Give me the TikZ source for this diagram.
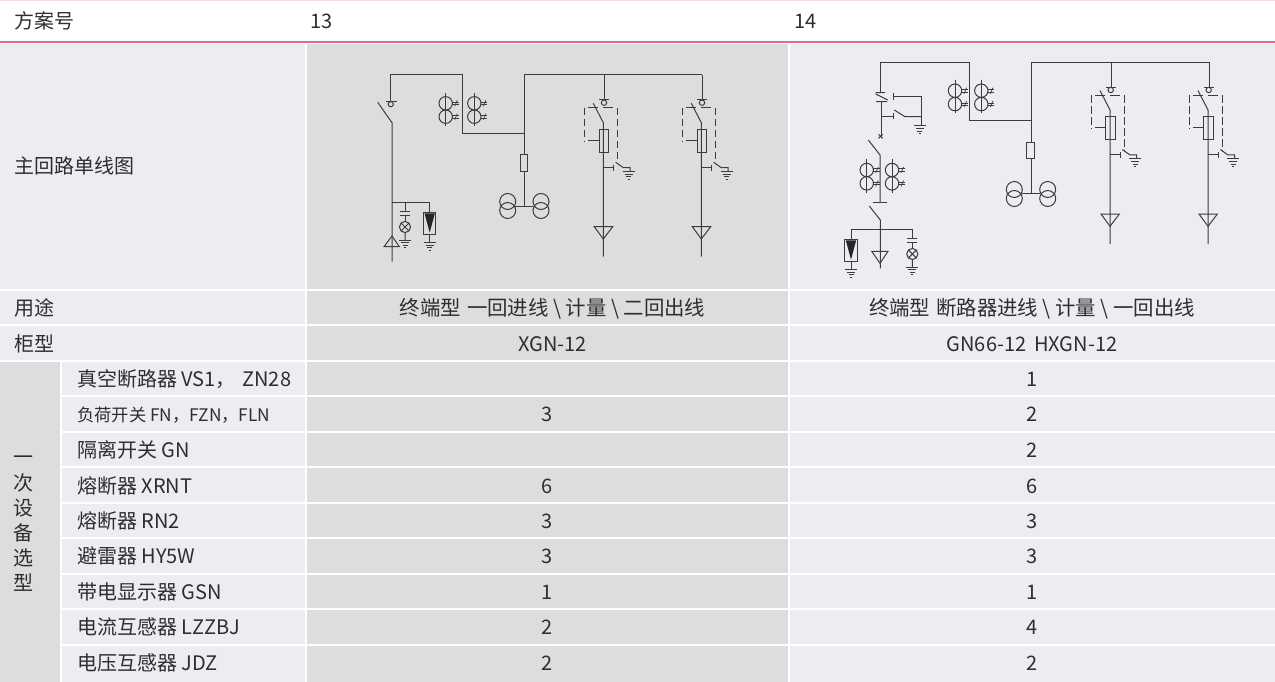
\documentclass[tikz,border=0pt]{standalone}
\usepackage{fontspec}
\setmainfont{Noto Sans CJK SC}
\definecolor{cellL}{HTML}{ECEDF0}
\definecolor{cellD}{HTML}{DCDDDF}
\definecolor{accent}{HTML}{DF6F80}
\definecolor{txt}{HTML}{2E2E30}
\definecolor{wire}{HTML}{3C3C3E}
\tikzset{
  lc/.style={fill=cellL,draw=none},
  dc/.style={fill=cellD,draw=none},
  lab/.style={anchor=base west,inner sep=0pt,text=txt,font=\fontsize{20}{24}\selectfont},
  labs/.style={lab,font=\fontsize{17.3}{21}\selectfont},
  val/.style={anchor=base,inner sep=0pt,text=txt,font=\fontsize{20}{24}\selectfont},
  wide/.style={val,font=\fontsize{20.4}{24}\selectfont},
  w/.style={draw=wire,line width=1pt},
  ct/.pic={
    \draw[w] (0,-10.7) -- (0,22.7);
    \draw[w] (0,0) circle (6.7) (0,13.4) circle (6.7);
    \draw[w,line width=0.7pt] (6.7,-1.2) -- (13,-1.2) (6.7,1.2) -- (13,1.2) (6.7,12.2) -- (13,12.2) (6.7,14.6) -- (13,14.6);
    \draw[w,line width=0.7pt] (9,3) -- (11.5,-3) (9,16.4) -- (11.5,10.4);
  },
  pt/.pic={
    \draw[w] (0,-4.5) circle (8) (0,4.5) circle (8);
  },
  gnd/.pic={
    \draw[w] (-6,0) -- (6,0) (-4,2.8) -- (4,2.8) (-2.5,5.2) -- (2.5,5.2) (-1,7.4) -- (1,7.4);
  },
  lamp/.pic={
    \draw[w] (0,0) -- (0,9.5) (-5,9.5) -- (5,9.5) (-5,13.5) -- (5,13.5) (0,13.5) -- (0,19.5);
    \draw[w] (0,25) circle (5.6) (-4,21) -- (4,29) (-4,29) -- (4,21) (0,30.6) -- (0,38);
    \draw (0,38) pic {gnd};
  },
  arr/.pic={
    \draw[w] (0,0) -- (0,10.7) (0,32) -- (0,40.7);
    \draw[w,fill=none] (-6.2,10.7) rectangle (6.2,32);
    \fill[black!85] (-5.2,11.3) -- (5.2,11.3) -- (0,30.6) -- cycle;
    \draw (0,40.7) pic {gnd};
  },
  feeder/.pic={
    \draw[w] (1,-25.3) -- (1,0) (-4,0) -- (6,0);
    \draw[w] (0.7,2.7) circle (2.7);
    \draw[w,dash pattern=on 7.5pt off 3.5pt] (-19,8) -- (-19,41.7);
    \draw[w] (-15,8) -- (-5,8) (0,8) -- (10,8);
    \draw[w,dash pattern=on 7.5pt off 3.5pt] (14.4,8) -- (14.4,63.3);
    \draw[w] (-10,3.3) -- (0,22.7) -- (0,156.7);
    \draw[w] (-4.3,29.3) rectangle (5.4,52.3);
    \draw[w] (-15,40.7) -- (-4.3,40.7);
    \draw[w] (0,67.7) -- (10,67.7) (10,64.7) -- (10,70.7);
    \draw[w] (12.4,62.3) -- (20,67.7) -- (26.7,67.7) -- (26.7,71.7);
    \draw (25.4,71.7) pic {gnd};
    \draw[w] (-9,126.7) -- (9.4,126.7) -- (0,139) -- cycle;
  }
}
\begin{document}
\begin{tikzpicture}[x=1pt,y=-1pt]
\useasboundingbox (0,0) rectangle (1275,682);
\fill[white] (0,0) rectangle (1275,682);
\fill[accent!25] (0,0) rectangle (1275,1);
% backgrounds
\fill[lc] (0,44) rectangle (305,289);
\fill[dc] (307,44) rectangle (788,289);
\fill[lc] (790,44) rectangle (1275,289);
\foreach \a/\b in {291/324,326/360}{
  \fill[lc] (0,\a) rectangle (305,\b);
  \fill[dc] (307,\a) rectangle (788,\b);
  \fill[lc] (790,\a) rectangle (1275,\b);
}
\fill[dc] (0,362) rectangle (60,682);
\foreach \a/\b in {362/395,397/431,433/466,468/502,504/537,539/573,575/608,610/644,646/682}{
  \fill[lc] (62,\a) rectangle (305,\b);
  \fill[dc] (307,\a) rectangle (788,\b);
  \fill[lc] (790,\a) rectangle (1275,\b);
}
\fill[accent] (0,41) rectangle (1275,43);
% header texts
\node[lab] (h0) at (14,29) {方案号};
\node[lab] (h1) at (310,29) {13};
\node[lab] (h2) at (794,29) {14};
\node[lab] (r0) at (14,174) {主回路单线图};
\node[lab] (r1) at (14,315) {用途};
\node[wide] (r1a) at (552.5,315) {终端型\hspace{0.3em}一回进线 \textbackslash{} 计量 \textbackslash{} 二回出线};
\node[wide] (r1b) at (1032,315) {终端型\hspace{0.3em}断路器进线 \textbackslash{} 计量 \textbackslash{} 一回出线};
\node[lab] (r2) at (14,351) {柜型};
\node[val] (r2a) at (552.5,351) {XGN-12};
\node[val] (r2b) at (1032,351) {GN66-12\hspace{0.4em}HXGN-12};
\node[anchor=center,inner sep=0pt,align=center,text=txt,font=\fontsize{20}{25.2}\selectfont] (side) at (23,524) {一\\次\\设\\备\\选\\型};
% equipment rows
\node[lab] (e1) at (77,386) {真空断路器 VS1，\hspace{0.1em} ZN28};
\node[labs] (e2) at (77,421) {负荷开关 FN，FZN，FLN};
\node[lab] (e3) at (77,457) {隔离开关 GN};
\node[lab] (e4) at (77,493) {熔断器 XRNT};
\node[lab] (e5) at (77,528) {熔断器 RN2};
\node[lab] (e6) at (77,563) {避雷器 HY5W};
\node[lab] (e7) at (77,599) {带电显示器 GSN};
\node[lab] (e8) at (77,634) {电流互感器 LZZBJ};
\node[lab] (e9) at (77,670) {电压互感器 JDZ};
\foreach \n/\y/\p/\q in {1/386//1,2/421/3/2,3/457//2,4/493/6/6,5/528/3/3,6/563/3/3,7/599/1/1,8/634/2/4,9/670/2/2}{
  \node[val] (a\n) at (547.5,\y) {\p};
  \node[val] (b\n) at (1032,\y) {\q};
}
% ---------- scheme 13 ----------
\draw[w] (392,261.7) -- (392,122.7) -- (377.7,102.3);
\draw[w] (390.7,101.7) -- (390.7,74.7) -- (462.3,74.7) -- (462.3,133.3) -- (524.3,133.3);
\draw[w] (386,101.7) -- (396.7,101.7);
\draw[w] (390.8,104.2) circle (2.6);
\draw (445.7,103.3) pic {ct};
\draw (474.3,103.3) pic {ct};
\draw[w] (702.3,74.7) -- (524.3,74.7) -- (524.3,155);
\draw[w] (520.3,155) rectangle (527.7,171.3);
\draw[w] (524.3,171.3) -- (524.3,206);
\draw (507.7,206) pic {pt};
\draw (541,206) pic {pt};
\draw[w] (515,206) -- (533,206);
\draw[w] (392,202) -- (430,202);
\draw (405,202) pic {lamp};
\draw (429.7,202) pic {arr};
\draw[w] (384,246.7) -- (399.3,246.7) -- (392,236) -- cycle;
\draw (603.3,100) pic {feeder};
\draw (701.3,100) pic {feeder};
% ---------- scheme 14 ----------
\draw[w] (880.7,92.7) -- (880.7,62.3) -- (969.3,62.3) -- (969.3,121) -- (1031,121);
\draw[w] (1209,62.3) -- (1031,62.3) -- (1031,142.7);
\draw[w] (875.7,92.7) -- (885,92.7) (875.7,94) -- (887.7,100) (876,101.7) -- (887,101.7);
\draw[w] (881.3,101.7) -- (881.3,135);
\draw[w] (878.5,134.3) -- (882.7,138.3) (878.5,138.3) -- (882.7,134.3);
\draw[w] (893,93) -- (893,100) (893,96.4) -- (921,96.4) -- (921,126);
\draw[w] (881.3,116.7) -- (893,116.7) (893,113.5) -- (893,119.5);
\draw[w] (894.3,110) -- (905,116.7) -- (921,116.7);
\draw (919.5,126) pic {gnd};
\draw (955,90.7) pic {ct};
\draw (981.3,90.7) pic {ct};
\draw[w] (868.3,140) -- (880,155) -- (880,202.7);
\draw[w] (873.3,202.7) -- (886.7,202.7);
\draw (866.7,170) pic {ct};
\draw (892,170) pic {ct};
\draw[w] (869.3,206) -- (880.3,220) -- (880.3,268.3);
\draw[w] (871.7,251.3) -- (888,251.3) -- (880,263.3) -- cycle;
\draw[w] (850.7,229) -- (912.7,229);
\draw (851,229) pic {arr};
\draw (912.3,229) pic {lamp};
\draw[w] (1026.7,142.7) rectangle (1034.7,159);
\draw[w] (1031,159) -- (1031,194);
\draw (1014.3,194) pic {pt};
\draw (1047.7,194) pic {pt};
\draw[w] (1022,194) -- (1040,194);
\draw (1110,87.3) pic {feeder};
\draw (1208,87.3) pic {feeder};
\end{tikzpicture}
\end{document}
